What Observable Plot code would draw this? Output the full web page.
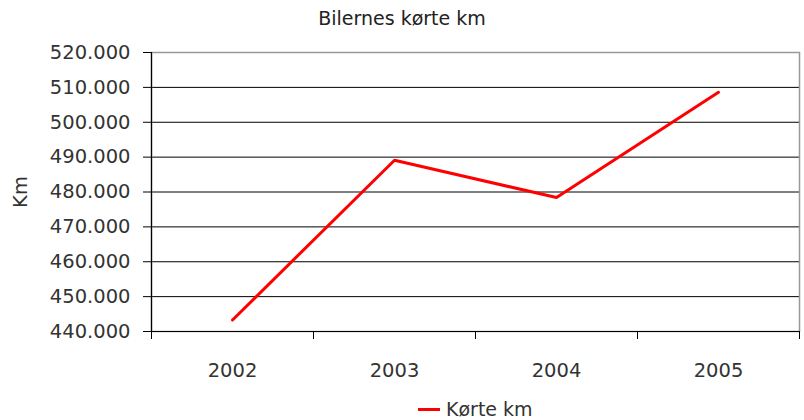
<!DOCTYPE html>
<html>
<head>
<meta charset="utf-8">
<script src="https://cdn.jsdelivr.net/npm/d3@7"></script>
<script src="https://cdn.jsdelivr.net/npm/@observablehq/plot@0.6"></script>
<style>
  body { margin: 0; background: #fff; font-family: "DejaVu Sans", sans-serif; }
  #wrap { position: relative; width: 804px; height: 420px; overflow: hidden; }
  #title { position: absolute; left: 0; top: 6px; width: 804px; text-align: center; font-size: 19px; line-height: 24px; color: #222; }
  #chart { position: absolute; left: 0; top: 40px; }
  #legend { position: absolute; left: 418px; top: 398px; font-size: 19px; line-height: 22px; color: #333; display: flex; align-items: center; }
  #legend .sw { width: 22px; height: 3px; background: #ff0000; margin-right: 6px; }
</style>
</head>
<body>
<div id="wrap">
  <div id="title">Bilernes kørte km</div>
  <div id="chart"></div>
  <div id="legend"><span class="sw"></span><span>Kørte km</span></div>
</div>
<script>
const years = [2002, 2003, 2004, 2005];
const km = [443300, 489100, 478400, 508600];
const yTicks = [440000, 450000, 460000, 470000, 480000, 490000, 500000, 510000, 520000];
const seriesName = "Kørte km";

const data = years.map((y, i) => ({year: y, km: km[i]}));
const boundaries = [years[0] - 0.5, ...years.map(y => y + 0.5)];
const fmt = d => d3.format(",")(d).replace(/,/g, ".");

const plot = Plot.plot({
  width: 804,
  height: 355,
  marginLeft: 151,
  marginRight: 5,
  marginTop: 12,
  marginBottom: 64,
  style: { fontFamily: "DejaVu Sans, sans-serif", fontSize: "19.5px", color: "#333", background: "transparent" },
  x: { type: "linear", domain: [boundaries[0], boundaries[boundaries.length - 1]] },
  y: { domain: [440000, 520000] },
  marks: [
    Plot.ruleY(yTicks.slice(1, -1), { stroke: "#000", strokeWidth: 1, strokeOpacity: 1 }),
    Plot.frame({ stroke: "#999", strokeWidth: 1.5 }),
    Plot.ruleY([yTicks[0]], { stroke: "#000", strokeWidth: 1.2 }),
    Plot.ruleX([boundaries[0]], { stroke: "#000", strokeWidth: 1.2 }),
    Plot.axisY({ ticks: yTicks, tickFormat: fmt, tickSize: 8, tickPadding: 13, stroke: "#000", label: "Km", labelAnchor: "center", labelArrow: "none", labelOffset: 138, fill: "#333" }),
    Plot.axisX({ ticks: boundaries, tickFormat: () => "", tickSize: 8, stroke: "#000", label: null }),
    Plot.axisX({ ticks: years, tickFormat: d => String(d), tickSize: 0, tickPadding: 32, label: null, fill: "#333" }),
    Plot.line(data, { x: "year", y: "km", stroke: "#ff0000", strokeWidth: 3, strokeLinejoin: "miter" })
  ]
});
document.getElementById("chart").appendChild(plot);
</script>
</body>
</html>
